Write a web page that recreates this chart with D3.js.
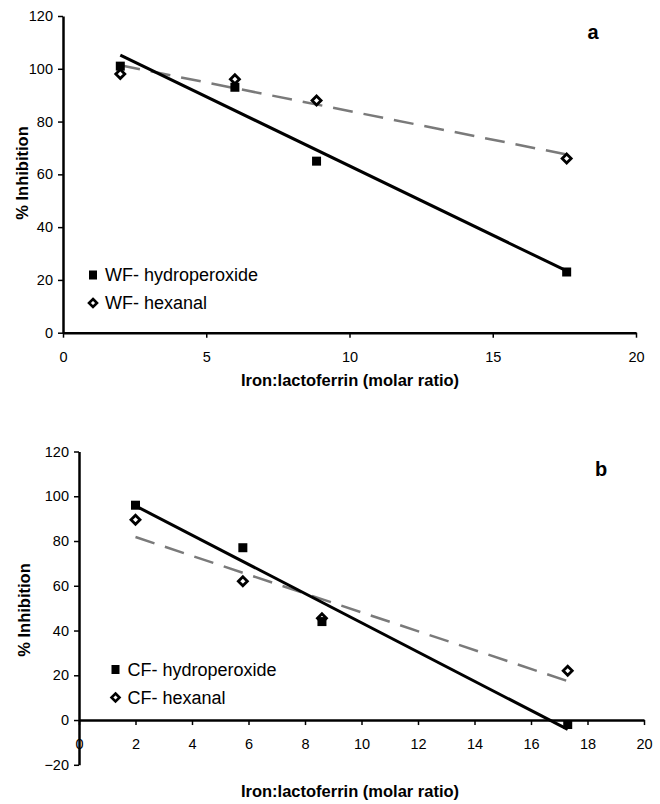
<!DOCTYPE html>
<html>
<head>
<meta charset="utf-8">
<script src="https://cdn.jsdelivr.net/npm/d3@7"></script>
<style>
  body { margin: 0; background: #fff; }
  text { font-family: "Liberation Sans", Arial, sans-serif; fill: #000; }
</style>
</head>
<body>
<script>
// panel a (WF)
var xA = [2, 6, 8.85, 17.58];
var wfHydro = [101, 93, 65, 23];
var wfHexanal = [98, 96, 88, 66];
var ticksAX = [0, 5, 10, 15, 20];
var ticksAY = [0, 20, 40, 60, 80, 100, 120];

// panel b (CF)
var xB = [2, 5.8, 8.6, 17.3];
var cfHydro = [96, 77, 44, -2];
var cfHexanal = [89.5, 62, 45.5, 22];
var ticksBX = [0, 2, 4, 6, 8, 10, 12, 14, 16, 18, 20];
var ticksBY = [-20, 0, 20, 40, 60, 80, 100, 120];

var xTitle = "Iron:lactoferrin (molar ratio)";
var yTitle = "% Inhibition";

var svg = d3.select("body").append("svg")
  .attr("width", 660)
  .attr("height", 804);

// least squares fit, used for the trend lines
function fit(xs, ys) {
  var mx = d3.mean(xs), my = d3.mean(ys);
  var sxy = d3.sum(xs, function(x, i) { return (x - mx) * (ys[i] - my); });
  var sxx = d3.sum(xs, function(x) { return (x - mx) * (x - mx); });
  var b = sxy / sxx;
  return function(x) { return my + b * (x - mx); };
}

function drawPanel(p) {
  var g = svg.append("g");
  var x = d3.scaleLinear().domain([0, 20]).range(p.xr);
  var y = d3.scaleLinear().domain(p.yd).range(p.yr);

  // y axis
  var ya = g.append("g")
    .attr("transform", "translate(" + x(0) + ",0)")
    .call(d3.axisLeft(y).tickValues(p.ty).tickSize(5).tickSizeOuter(0).tickPadding(5));
  // x axis sits at y = 0
  var xa = g.append("g")
    .attr("transform", "translate(0," + y(0) + ")")
    .call(d3.axisBottom(x).tickValues(p.tx).tickSize(5).tickSizeOuter(0).tickPadding(p.xpad));

  [ya, xa].forEach(function(a) {
    a.select(".domain").attr("stroke", "#000").attr("stroke-width", 2.5);
    a.selectAll(".tick line").attr("stroke", "#000").attr("stroke-width", 1.5);
    a.selectAll(".tick text").style("font-size", "14.5px").style("font-family", "Liberation Sans, Arial, sans-serif").attr("fill", "#000");
  });

  // trend lines
  var line = d3.line().x(function(d) { return x(d[0]); }).y(function(d) { return y(d[1]); });
  var x0 = d3.min(p.xs), x1 = d3.max(p.xs);
  var fHex = fit(p.xs, p.hex);
  var fHyd = fit(p.xs, p.hyd);
  g.append("path")
    .datum([[x0, fHex(x0)], [x1, fHex(x1)]])
    .attr("d", line)
    .attr("fill", "none")
    .attr("stroke", "#7a7a7a")
    .attr("stroke-width", 2.5)
    .attr("stroke-dasharray", "20,11");
  g.append("path")
    .datum([[x0, fHyd(x0)], [x1, fHyd(x1)]])
    .attr("d", line)
    .attr("fill", "none")
    .attr("stroke", "#000")
    .attr("stroke-width", 3);

  // points
  var diamond = "M0,-4.5L4.5,0L0,4.5L-4.5,0Z";
  g.selectAll(".hex").data(p.hex).enter().append("path")
    .attr("d", diamond)
    .attr("transform", function(d, i) { return "translate(" + x(p.xs[i]) + "," + y(d) + ")"; })
    .attr("fill", "#fff").attr("stroke", "#000").attr("stroke-width", 2.8);
  g.selectAll(".hyd").data(p.hyd).enter().append("rect")
    .attr("x", function(d, i) { return x(p.xs[i]) - 4.5; })
    .attr("y", function(d) { return y(d) - 4.5; })
    .attr("width", 9).attr("height", 9)
    .attr("fill", "#000");

  // legend
  var lg = g.append("g").attr("transform", "translate(" + p.lx + "," + p.ly + ")");
  lg.append("rect").attr("x", -4).attr("y", -4.5).attr("width", 8).attr("height", 9).attr("fill", "#000");
  lg.append("text").attr("x", 12).attr("y", 6).style("font-size", "18px").text(p.names[0]);
  lg.append("path").attr("d", "M0,-4L4,0L0,4L-4,0Z").attr("transform", "translate(0,28)")
    .attr("fill", "#fff").attr("stroke", "#000").attr("stroke-width", 2.6);
  lg.append("text").attr("x", 12).attr("y", 34).style("font-size", "18px").text(p.names[1]);

  // titles
  g.append("text")
    .attr("x", 350).attr("y", p.xty)
    .attr("text-anchor", "middle")
    .style("font-size", "16.5px").style("font-weight", "bold")
    .text(xTitle);
  g.append("text")
    .attr("transform", "translate(" + p.ytx + "," + p.yty + ") rotate(-90)")
    .attr("text-anchor", "middle")
    .attr("dy", "0.35em")
    .style("font-size", "16.5px").style("font-weight", "bold")
    .text(yTitle);
  g.append("text")
    .attr("x", p.letter[0]).attr("y", p.letter[1])
    .attr("text-anchor", "middle")
    .style("font-size", "20px").style("font-weight", "bold")
    .text(p.letter[2]);
}

drawPanel({
  xr: [63, 636], yd: [0, 120], yr: [332.7, 16],
  tx: ticksAX, ty: ticksAY, xpad: 14,
  xs: xA, hyd: wfHydro, hex: wfHexanal,
  names: ["WF- hydroperoxide", "WF- hexanal"],
  lx: 93, ly: 275,
  xty: 386, ytx: 22, yty: 173,
  letter: [593, 39, "a"]
});

drawPanel({
  xr: [79, 644], yd: [-20, 120], yr: [764.8, 451.5],
  tx: ticksBX, ty: ticksBY, xpad: 14,
  xs: xB, hyd: cfHydro, hex: cfHexanal,
  names: ["CF- hydroperoxide", "CF- hexanal"],
  lx: 115.5, ly: 669.5,
  xty: 797, ytx: 24, yty: 610,
  letter: [601, 476, "b"]
});
</script>
</body>
</html>
